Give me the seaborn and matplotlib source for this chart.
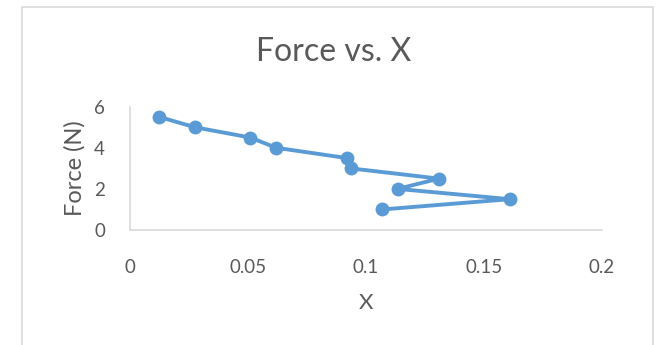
import matplotlib
matplotlib.use("Agg")
import matplotlib.pyplot as plt
import seaborn as sns
import pandas as pd
from matplotlib.patches import Rectangle

# Displacement X and applied force (N)
x_values = [0.0125, 0.0275, 0.051, 0.062, 0.092, 0.0935, 0.131, 0.1135, 0.161, 0.107]
force_values = [5.5, 5.0, 4.5, 4.0, 3.5, 3.0, 2.5, 2.0, 1.5, 1.0]
x_ticks = [0, 0.05, 0.1, 0.15, 0.2]
x_tick_labels = ["0", "0.05", "0.1", "0.15", "0.2"]
y_ticks = [0, 2, 4, 6]

df = pd.DataFrame({"X": x_values, "Force": force_values})

sns.set_theme(style="white")
plt.rcParams["font.family"] = ["Lato", "DejaVu Sans"]

text_color = "#595959"
line_color = "#5B9BD5"

fig = plt.figure(figsize=(6.56, 3.45), dpi=100)
ax = fig.add_axes([130 / 656, 1 - 230 / 345, (601.7 - 130) / 656, (230 - 106.7) / 345])

sns.lineplot(data=df, x="X", y="Force", sort=False, ax=ax,
             color=line_color, linewidth=2.8, marker="o",
             markersize=10, markeredgewidth=0, markerfacecolor=line_color)

ax.set_xlim(0, 0.2)
ax.set_ylim(0, 6)
ax.set_xticks(x_ticks)
ax.set_xticklabels(x_tick_labels)
ax.set_yticks(y_ticks)
ax.tick_params(axis="both", length=0, labelsize=13.5, colors=text_color)
ax.tick_params(axis="x", pad=21)
ax.tick_params(axis="y", pad=18)

for side in ["top", "right"]:
    ax.spines[side].set_visible(False)
for side in ["left", "bottom"]:
    ax.spines[side].set_color("#d9d9d9")
    ax.spines[side].set_linewidth(1.2)

ax.set_xlabel("X", fontsize=16, color=text_color, labelpad=12)
ax.set_ylabel("Force (N)", fontsize=17, color=text_color, labelpad=6)

fig.text(334 / 656, 1 - 52 / 345, "Force vs. X", ha="center", va="center",
         fontsize=23, color=text_color)

# chart-area frame
fig.patches.append(Rectangle((22 / 656, -0.05), (653 - 22) / 656, 1 - 7 / 345 + 0.05,
                             transform=fig.transFigure, fill=False,
                             edgecolor="#d9d9d9", linewidth=1.2))

fig.savefig("out.png", dpi=100)
